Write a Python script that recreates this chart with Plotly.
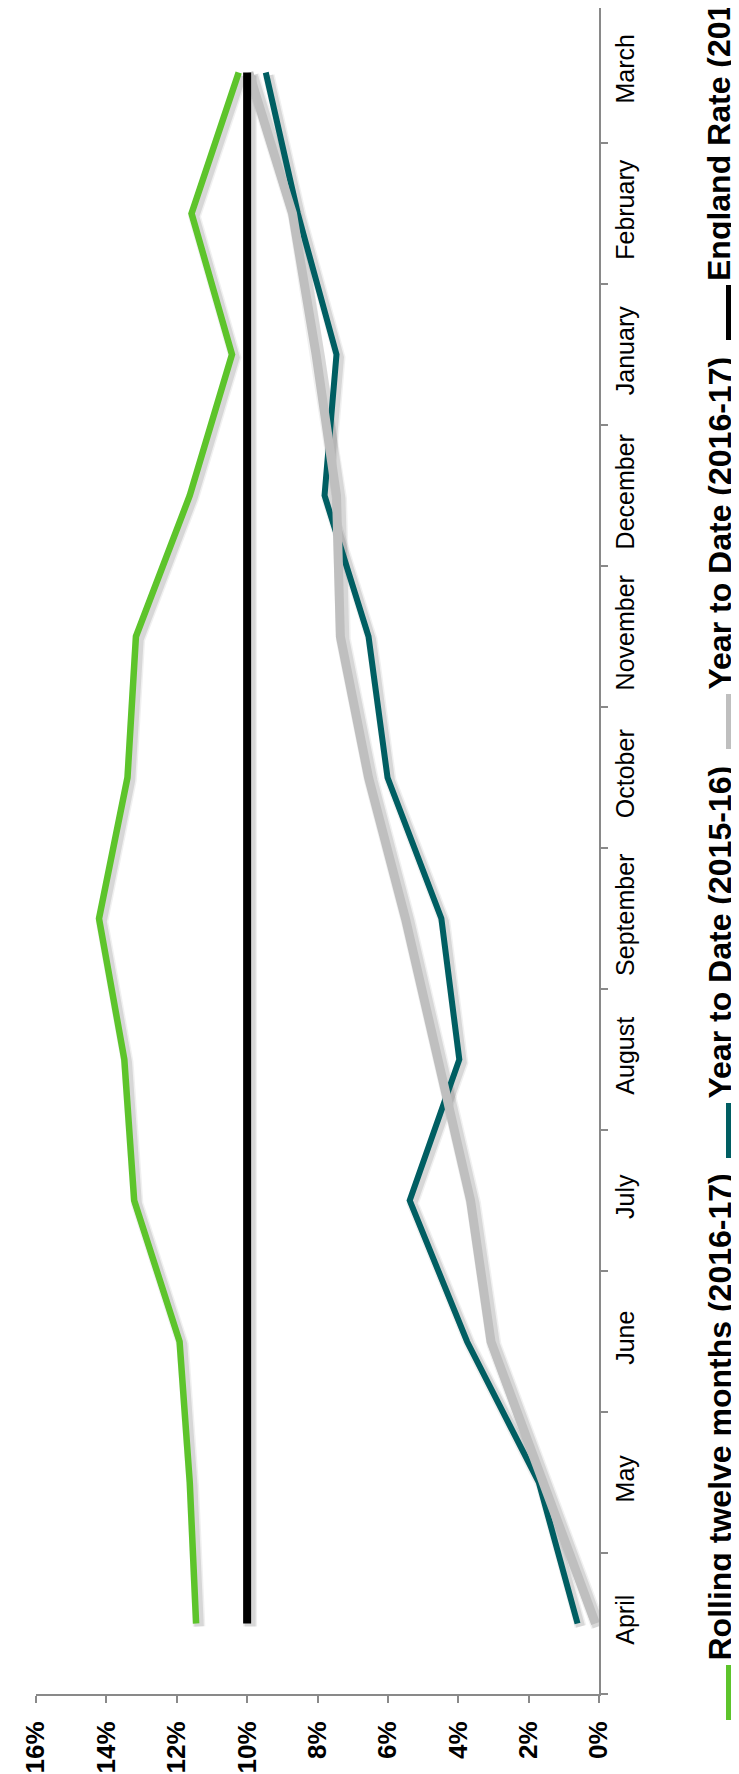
import plotly.graph_objects as go

# ---------------- data (percent values) ----------------
months = ["April", "May", "June", "July", "August", "September", "October",
          "November", "December", "January", "February", "March"]
rolling_12m_2016_17 = [11.45, 11.63, 11.92, 13.21, 13.49, 14.21, 13.40, 13.16, 11.63, 10.43, 11.58, 10.24]
ytd_2015_16 = [0.61, 1.71, 3.75, 5.38, 3.97, 4.48, 6.01, 6.55, 7.80, 7.46, 8.56, 9.47]
ytd_2016_17 = [0.10, 1.59, 3.07, 3.65, 4.59, 5.50, 6.55, 7.35, 7.46, 8.04, 8.71, 9.95]
england_rate_2016_17 = [10.0] * 12
pct_ticks = [0, 2, 4, 6, 8, 10, 12, 14, 16]

series = [
    ("Rolling twelve months (2016-17)", rolling_12m_2016_17, "#5DC42B", 6.5),
    ("Year to Date (2015-16)", ytd_2015_16, "#005E62", 6),
    ("Year to Date (2016-17)", ytd_2016_17, "#BFBFBF", 9),
    ("England Rate (2016-17)", england_rate_2016_17, "#000000", 8),
]

# ---------------- geometry ----------------
W, H = 739, 1774
ML, MR, MT, MB = 28, 148, 0, 88
PW = W - ML - MR          # plot width in px
PH = H - MT - MB          # plot height in px
XMAX = 0.16
band = 141.0              # px per month category
ytop = 11.5 - 6 / band    # top of plot sits slightly inside the last band
shadow_dx = 3 * XMAX / PW
shadow_dy = 3 / band

AX = "#898989"
FONT = "Arial, Liberation Sans, sans-serif"

fig = go.Figure()

# soft shadows on base (hidden, shifted) axes
for name, vals, color, lw in series:
    for extra, alpha in ((6, 0.06), (3, 0.10)):
        fig.add_trace(go.Scatter(
            x=[v / 100 for v in vals], y=months, mode="lines",
            line=dict(color=f"rgba(0,0,0,{alpha})", width=lw + extra),
            xaxis="x", yaxis="y", showlegend=False, hoverinfo="skip"))

# main lines on the overlay (visible) axes
for name, vals, color, lw in series:
    fig.add_trace(go.Scatter(
        x=[v / 100 for v in vals], y=months, mode="lines", name=name,
        line=dict(color=color, width=lw), xaxis="x2", yaxis="y2",
        showlegend=False))

fig.update_layout(
    width=W, height=H, autosize=False,
    margin=dict(l=ML, r=MR, t=MT, b=MB, pad=0),
    paper_bgcolor="white", plot_bgcolor="white",
    font=dict(family=FONT, color="black"),
    xaxis=dict(range=[XMAX + shadow_dx, shadow_dx], visible=False, fixedrange=True),
    yaxis=dict(type="category", categoryarray=months, categoryorder="array",
               range=[-0.5 + shadow_dy, ytop + shadow_dy], visible=False),
    xaxis2=dict(
        overlaying="x", anchor="y2", side="bottom",
        range=[XMAX, 0], tickvals=[t / 100 for t in pct_ticks], tickformat=".0%",
        tickangle=-90, ticks="outside", ticklen=7, tickwidth=2, tickcolor=AX,
        showline=True, linecolor=AX, linewidth=2, showgrid=False, zeroline=False,
        tickfont=dict(family=FONT, size=26, color="black", weight="bold"),
        ticklabelstandoff=8,
    ),
    yaxis2=dict(
        overlaying="y", anchor="x2", side="right", type="category",
        categoryarray=months, categoryorder="array",
        range=[-0.5, ytop], tickson="boundaries",
        tickangle=-90, ticks="outside", ticklen=7, tickwidth=2, tickcolor=AX,
        showline=True, linecolor=AX, linewidth=2, showgrid=False, zeroline=False,
        tickfont=dict(family=FONT, size=25, color="black"),
        ticklabelstandoff=3,
    ),
)

# ---------------- rotated legend drawn with shapes + annotations ----------------
def px_x(px):
    return (px - ML) / PW

def px_y(py):
    return (MT + PH - py) / PH

legend_pos = [  # (bar start y, bar end y) in px, bar drawn at x=721
    (1712, 1657),
    (1150, 1095),
    (741, 686),
    (332, 277),
]
LX = 721
for (name, vals, color, lw), (y0, y1) in zip(series, legend_pos):
    fig.add_shape(type="line", xref="paper", yref="paper",
                  x0=px_x(LX), x1=px_x(LX), y0=px_y(y0), y1=px_y(y1),
                  line=dict(color=color, width=6), layer="above")
    fig.add_annotation(text=name, xref="paper", yref="paper",
                       x=px_x(711), y=px_y(y1 - 2), xanchor="center", yanchor="bottom",
                       textangle=-90, showarrow=False,
                       font=dict(family=FONT, size=32, color="black", weight="bold"))

fig.write_html("out.html")
